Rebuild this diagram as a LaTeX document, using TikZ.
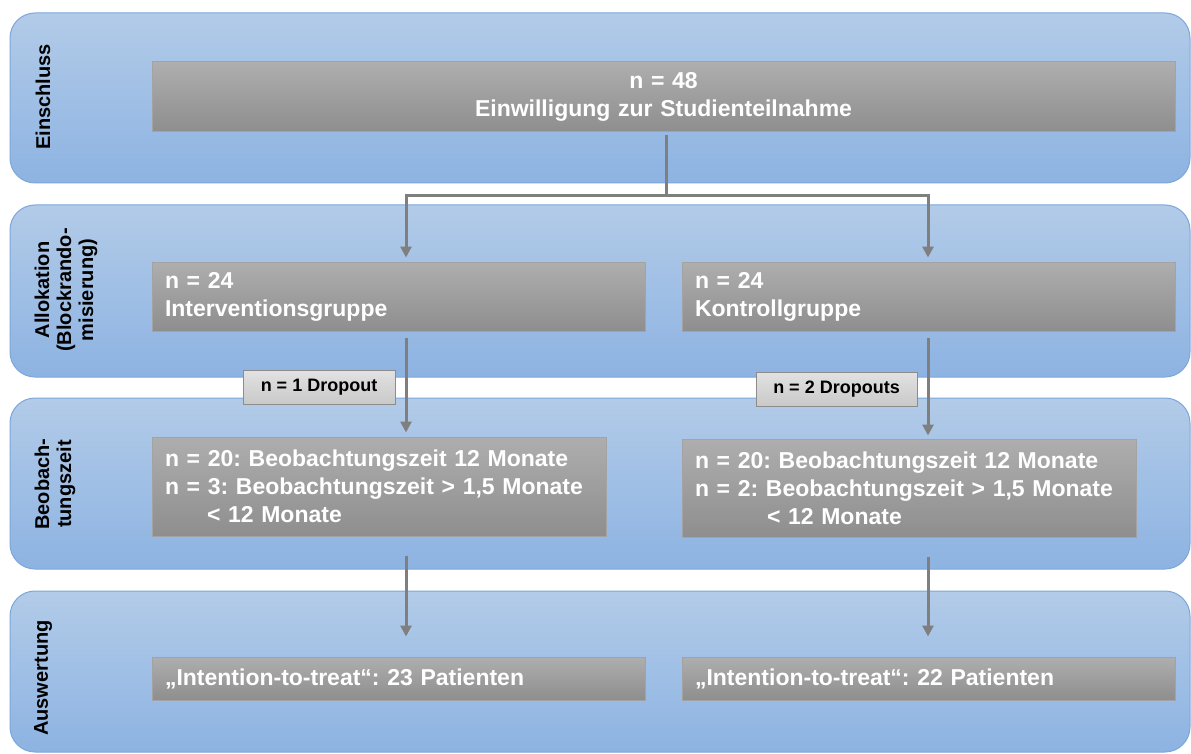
\documentclass[tikz,border=0pt]{standalone}
\usepackage{fontspec}
\setmainfont{Liberation Sans}
\usetikzlibrary{arrows.meta}
\frenchspacing

\definecolor{lanetop}{HTML}{B2CBE8}
\definecolor{lanebot}{HTML}{8DB3E2}
\definecolor{laneline}{HTML}{7BA7DB}
\definecolor{boxtop}{HTML}{AEAEAE}
\definecolor{boxbot}{HTML}{8E8E8E}
\definecolor{boxline}{HTML}{A3A3A3}
\definecolor{droptop}{HTML}{E2E2E2}
\definecolor{dropbot}{HTML}{C9C9C9}
\definecolor{droline}{HTML}{8C8C8C}
\definecolor{arrgray}{HTML}{7F7F7F}

\begin{document}
\begin{tikzpicture}[
  x=1pt, y=-1pt,
  lane/.style={rectangle, rounded corners=25pt, draw=laneline, line width=1pt, top color=lanetop, bottom color=lanebot, minimum width=1180pt},
  lanelabel/.style={rotate=90, align=center, font=\bfseries\fontsize{20}{22}\selectfont},
  greybox/.style={rectangle, draw=boxline, line width=1pt, top color=boxtop, bottom color=boxbot, text=white, inner xsep=13pt, inner ysep=0pt, font=\bfseries\fontsize{23}{28}\selectfont},
  dropbox/.style={rectangle, draw=droline, line width=1pt, top color=droptop, bottom color=dropbot, inner sep=0pt, font=\bfseries\fontsize{18}{20}\selectfont},
  arr/.style={draw=arrgray, line width=3pt, -{Triangle[width=11pt,length=11pt]}}
]
  \useasboundingbox (0,0) rectangle (1191,754);

  % lanes
  \node[lane, minimum height=170pt] (inc) at (600,98) {};
  \node[lane, minimum height=172pt] (alc) at (600,291) {};
  \node[lane, minimum height=171pt] (obs) at (600,483.5) {};
  \node[lane, minimum height=161pt] (eva) at (600,671.5) {};

  \node[lanelabel] (incl) at (43,97)  {Einschluss};
  \node[lanelabel] (alcl) at (66,290) {Allokation\\(Blockrando-\\misierung)};
  \node[lanelabel] (obsl) at (55,484) {Beobach-\\tungszeit};
  \node[lanelabel] (eval) at (43,678) {Auswertung};

  % boxes
  \node[greybox, text width=997pt, minimum height=70pt, align=center] (total) at (663.5,97)
    {n = 48\\Einwilligung zur Studienteilnahme};
  \node[greybox, text width=467pt, minimum height=69pt, align=left] (alcL) at (398.5,296.5)
    {n = 24\\Interventionsgruppe};
  \node[greybox, text width=467pt, minimum height=69pt, align=left] (alcR) at (928.5,296.5)
    {n = 24\\Kontrollgruppe};
  \node[greybox, text width=428pt, minimum height=99pt, align=left] (obsL) at (379,486.5)
    {n = 20: Beobachtungszeit 12 Monate\\n = 3: Beobachtungszeit > 1,5 Monate\\\hspace*{42pt}< 12 Monate};
  \node[greybox, text width=428pt, minimum height=98pt, align=left] (obsR) at (909,488)
    {n = 20: Beobachtungszeit 12 Monate\\n = 2: Beobachtungszeit > 1,5 Monate\\\hspace*{72pt}< 12 Monate};
  \node[greybox, text width=467pt, minimum height=43pt, align=left] (evaL) at (398.5,678.5)
    {„Intention-to-treat“: 23 Patienten};
  \node[greybox, text width=467pt, minimum height=43pt, align=left] (evaR) at (928.5,678.5)
    {„Intention-to-treat“: 22 Patienten};

  \node[dropbox, minimum width=152pt, minimum height=34pt] (dropL) at (319,387) {n = 1 Dropout};
  \node[dropbox, minimum width=161pt, minimum height=34pt] (dropR) at (836.5,389) {n = 2 Dropouts};

  % connectors
  \coordinate (split) at (666,196);
  \coordinate (colL) at (406,0);
  \coordinate (colR) at (928,0);
  \draw[arr, shorten <=3pt, shorten >=4pt] (total.south -| split) -- (split) -| (alcL.north -| colL);
  \draw[arr, shorten <=3pt, shorten >=4pt] (total.south -| split) -- (split) -| (alcR.north -| colR);
  \draw[arr, shorten <=6pt, shorten >=4pt] (alcL.south -| colL) -- (obsL.north -| colL);
  \draw[arr, shorten <=6pt, shorten >=3pt] (alcR.south -| colR) -- (obsR.north -| colR);
  \draw[arr, shorten <=19pt, shorten >=20pt] (obsL.south -| colL) -- (evaL.north -| colL);
  \draw[arr, shorten <=19pt, shorten >=20pt] (obsR.south -| colR) -- (evaR.north -| colR);
\end{tikzpicture}
\end{document}
